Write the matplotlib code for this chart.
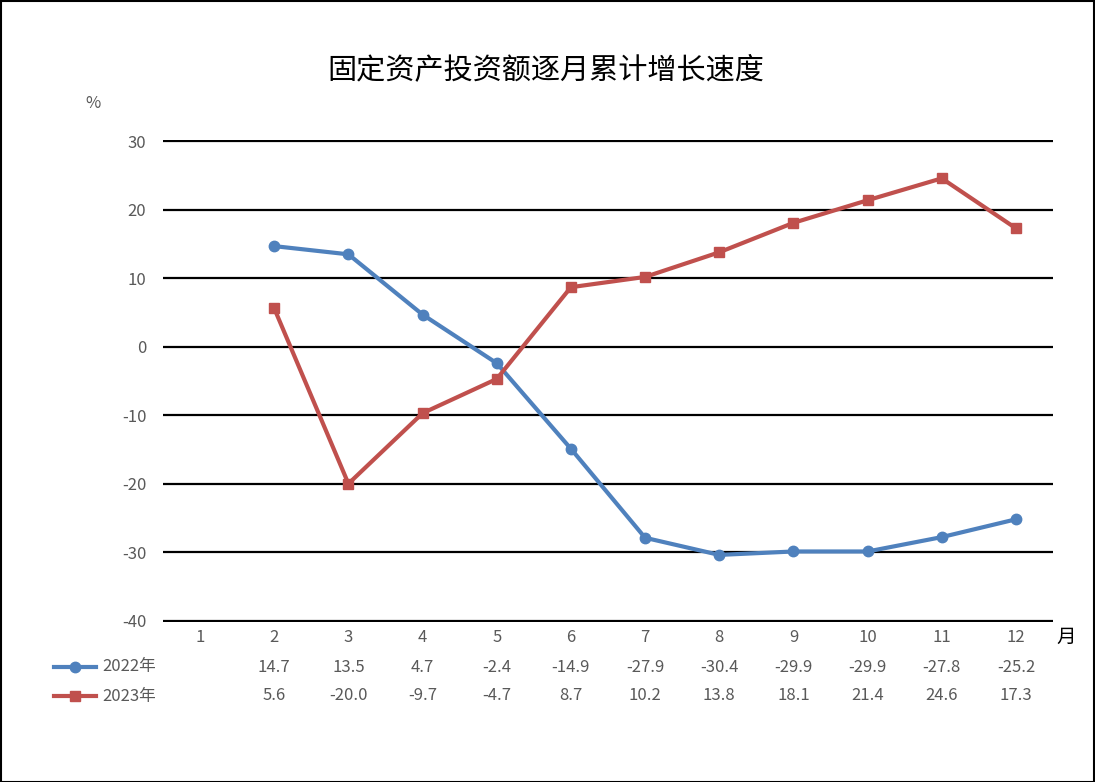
import matplotlib
matplotlib.use("Agg")
import matplotlib.pyplot as plt
from matplotlib.lines import Line2D
from matplotlib.patches import Rectangle
import matplotlib.transforms as mtransforms
import numpy as np

plt.rcParams['font.family'] = ['Noto Sans CJK SC', 'DejaVu Sans']

months = [1, 2, 3, 4, 5, 6, 7, 8, 9, 10, 11, 12]
s2022_months = [2, 3, 4, 5, 6, 7, 8, 9, 10, 11, 12]
s2022 = [14.7, 13.5, 4.7, -2.4, -14.9, -27.9, -30.4, -29.9, -29.9, -27.8, -25.2]
s2023 = [5.6, -20.0, -9.7, -4.7, 8.7, 10.2, 13.8, 18.1, 21.4, 24.6, 17.3]
series_names = ["2022年", "2023年"]
title = "固定资产投资额逐月累计增长速度"
yticks = [-40, -30, -20, -10, 0, 10, 20, 30]

blue = "#4F81BD"
red = "#C0504D"
grey = "#595959"

W, H = 1095, 782
fig = plt.figure(figsize=(W/100, H/100), dpi=100)
ax = fig.add_axes([163/W, 1-622/H, 890/W, 482/H])

ax.set_xlim(0.5, 12.5)
ax.set_ylim(-40.2, 30.2)
for y in yticks:
    ax.axhline(y, color="black", lw=1.6, zorder=1)
ax.set_yticks(yticks)
ax.set_yticklabels([str(v) for v in yticks], color=grey, fontsize=12)
ax.tick_params(axis='y', length=0, pad=12)
ax.set_xticks([])
for sp in ax.spines.values():
    sp.set_visible(False)

ax.plot(s2022_months, s2022, color=blue, lw=3, marker='o', ms=7.5, zorder=3)
ax.plot(s2022_months, s2023, color=red, lw=3, marker='s', ms=7, zorder=3)

# table below
tr = mtransforms.blended_transform_factory(ax.transData, fig.transFigure)
for m in months:
    ax.text(m, 1-637/H, str(m), transform=tr, ha='center', va='center',
            color=grey, fontsize=12, clip_on=False)
for m, v in zip(s2022_months, s2022):
    ax.text(m, 1-667/H, f"{v:.1f}", transform=tr, ha='center', va='center',
            color=grey, fontsize=12, clip_on=False)
for m, v in zip(s2022_months, s2023):
    ax.text(m, 1-696/H, f"{v:.1f}", transform=tr, ha='center', va='center',
            color=grey, fontsize=12, clip_on=False)

# legend keys
for yy, col, mk, name in [(667, blue, 'o', series_names[0]), (696, red, 's', series_names[1])]:
    fig.add_artist(Line2D([54/W, 96/W], [1-yy/H, 1-yy/H], color=col, lw=3,
                          transform=fig.transFigure))
    fig.add_artist(Line2D([75/W], [1-yy/H], color=col, marker=mk, ms=7.5 if mk == 'o' else 7,
                          transform=fig.transFigure))
    fig.text(102/W, 1-yy/H, name, ha='left', va='center', color=grey, fontsize=12)

fig.text(546/W, 1-70/H, title, ha='center', va='center', color='black', fontsize=21)
fig.text(93/W, 1-103/H, "%", ha='center', va='center', color=grey, fontsize=12)
fig.text(1066/W, 1-637/H, "月", ha='center', va='center', color='black', fontsize=14)

fig.add_artist(Rectangle((0.5/W, 0.5/H), 1-1.5/W, 1-1.5/H, transform=fig.transFigure,
                         fill=False, edgecolor='black', lw=1.5))

fig.savefig("out.png", dpi=100, facecolor='white')
